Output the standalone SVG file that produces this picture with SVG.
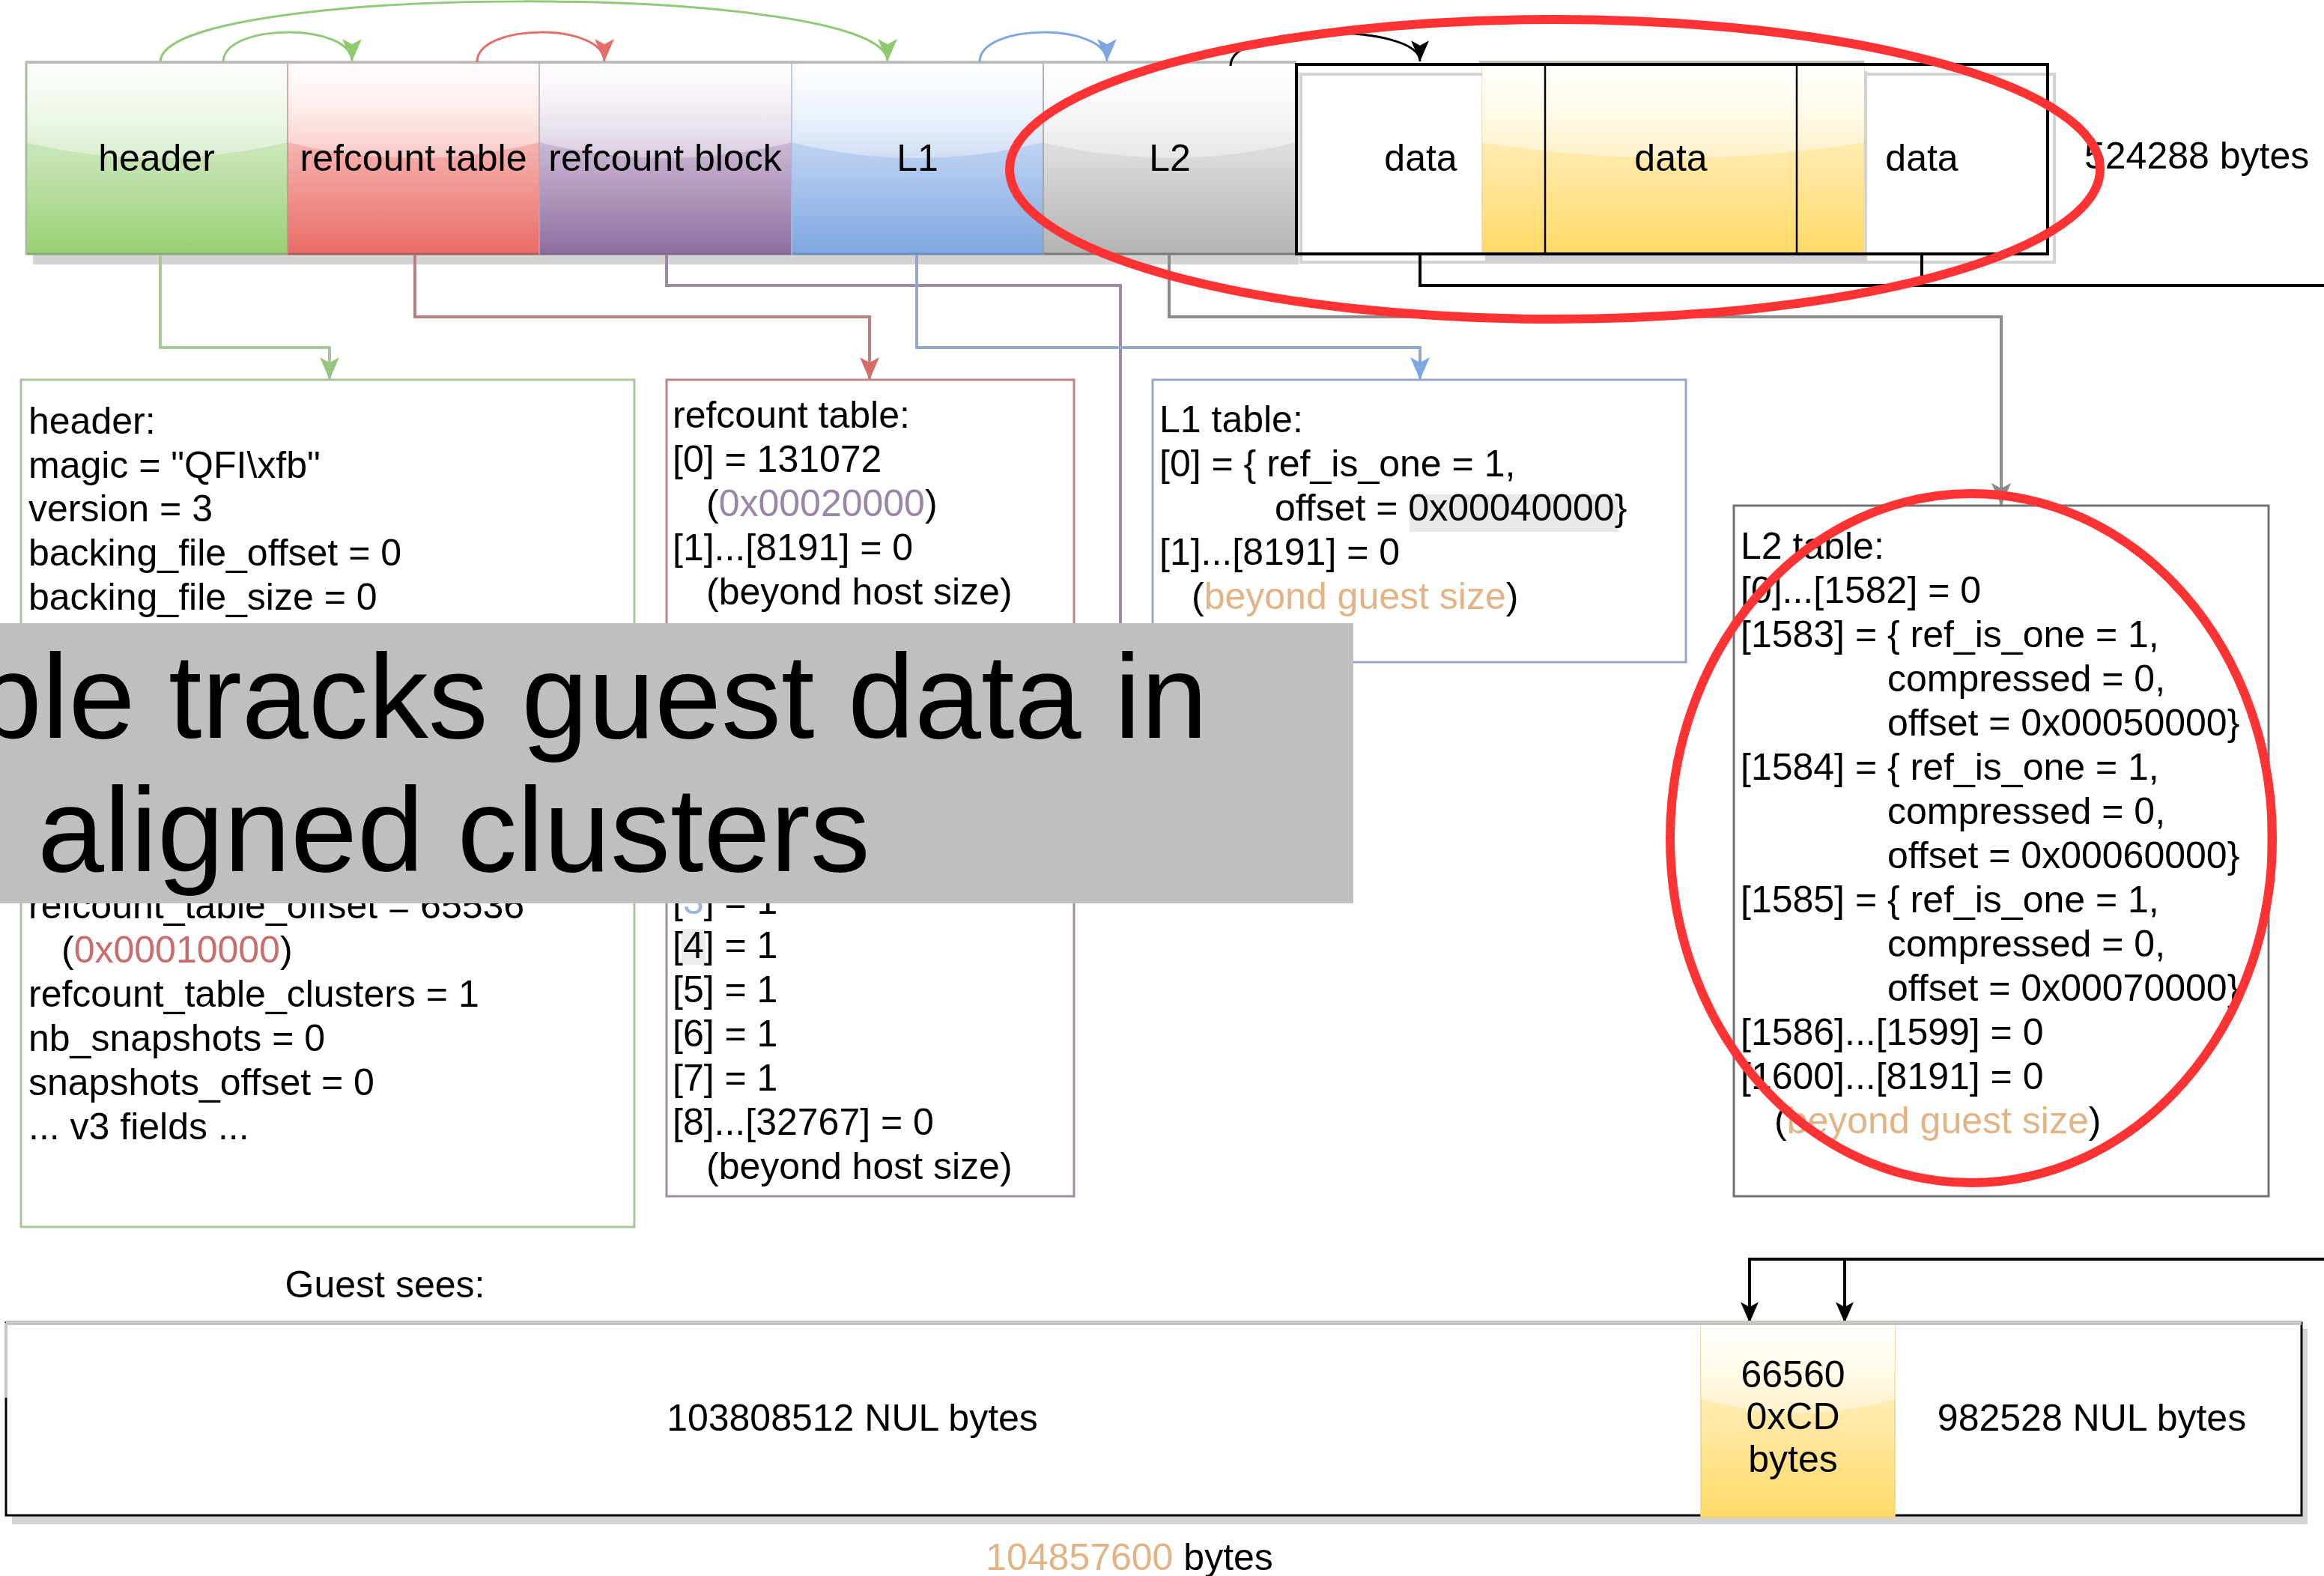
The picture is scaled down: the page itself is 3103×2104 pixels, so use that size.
<svg xmlns="http://www.w3.org/2000/svg" width="3103" height="2104" viewBox="0 0 3103 2104">
<style>
text{font-family:"Liberation Sans",Arial,Helvetica,sans-serif;font-size:50px;fill:#000}
.c{text-anchor:middle}
.big{font-size:160px}
.tan{fill:#e2b384}
.conn{fill:none;stroke-width:4}
.arc{fill:none;stroke-width:3}
.box{fill:#fff;stroke-width:3}
.ann{fill:none;stroke:#ff3333;stroke-width:12}
.glass{fill:url(#glass)}
.bl{stroke-width:3}
</style>
<defs>
<linearGradient id="glass" x1="0" y1="0" x2="0" y2="1"><stop offset="0" stop-color="#fff" stop-opacity="0.92"/><stop offset="1" stop-color="#fff" stop-opacity="0.35"/></linearGradient>
<linearGradient id="gGreen" x1="0" y1="0" x2="0" y2="1"><stop offset="0" stop-color="#dff0d6"/><stop offset="0.5" stop-color="#c6e4b4"/><stop offset="1" stop-color="#97cf72"/></linearGradient>
<linearGradient id="gRed" x1="0" y1="0" x2="0" y2="1"><stop offset="0" stop-color="#fde4e3"/><stop offset="0.5" stop-color="#f4a9a6"/><stop offset="1" stop-color="#ea6b66"/></linearGradient>
<linearGradient id="gPurple" x1="0" y1="0" x2="0" y2="1"><stop offset="0" stop-color="#ece4f0"/><stop offset="0.5" stop-color="#c3aecd"/><stop offset="1" stop-color="#8f6e9f"/></linearGradient>
<linearGradient id="gBlue" x1="0" y1="0" x2="0" y2="1"><stop offset="0" stop-color="#e3eefc"/><stop offset="0.5" stop-color="#b6cdf0"/><stop offset="1" stop-color="#7ea6e0"/></linearGradient>
<linearGradient id="gGray" x1="0" y1="0" x2="0" y2="1"><stop offset="0" stop-color="#f5f5f5"/><stop offset="0.5" stop-color="#d9d9d9"/><stop offset="1" stop-color="#b3b3b3"/></linearGradient>
<linearGradient id="gYellow" x1="0" y1="0" x2="0" y2="1"><stop offset="0" stop-color="#fff6da"/><stop offset="0.5" stop-color="#ffe9a8"/><stop offset="1" stop-color="#ffd966"/></linearGradient>
<marker id="mkGreenA" viewBox="0 0 30 26" refX="30" refY="13" markerWidth="30" markerHeight="26" markerUnits="userSpaceOnUse" orient="auto"><path d="M0,0 L30,13 L0,26 L7,13 Z" fill="#8fcb6c"/></marker>
<marker id="mkRedA" viewBox="0 0 30 26" refX="30" refY="13" markerWidth="30" markerHeight="26" markerUnits="userSpaceOnUse" orient="auto"><path d="M0,0 L30,13 L0,26 L7,13 Z" fill="#e36d6a"/></marker>
<marker id="mkBlueA" viewBox="0 0 30 26" refX="30" refY="13" markerWidth="30" markerHeight="26" markerUnits="userSpaceOnUse" orient="auto"><path d="M0,0 L30,13 L0,26 L7,13 Z" fill="#7ea6e0"/></marker>
<marker id="mkBlack" viewBox="0 0 30 26" refX="30" refY="13" markerWidth="30" markerHeight="24" markerUnits="userSpaceOnUse" orient="auto"><path d="M0,0 L30,13 L0,26 L7,13 Z" fill="#000"/></marker>
<marker id="mkGreenC" viewBox="0 0 30 26" refX="30" refY="13" markerWidth="30" markerHeight="26" markerUnits="userSpaceOnUse" orient="auto"><path d="M0,0 L30,13 L0,26 L7,13 Z" fill="#97c47f"/></marker>
<marker id="mkRedC" viewBox="0 0 30 26" refX="30" refY="13" markerWidth="30" markerHeight="26" markerUnits="userSpaceOnUse" orient="auto"><path d="M0,0 L30,13 L0,26 L7,13 Z" fill="#d46c68"/></marker>
<marker id="mkBlueC" viewBox="0 0 30 26" refX="30" refY="13" markerWidth="30" markerHeight="26" markerUnits="userSpaceOnUse" orient="auto"><path d="M0,0 L30,13 L0,26 L7,13 Z" fill="#7ea6e0"/></marker>
<marker id="mkGray" viewBox="0 0 30 26" refX="30" refY="13" markerWidth="30" markerHeight="26" markerUnits="userSpaceOnUse" orient="auto"><path d="M0,0 L30,13 L0,26 L7,13 Z" fill="#888"/></marker>
</defs>
<rect width="3103" height="2104" fill="#fff"/>

<!-- top bar shadow -->
<rect x="44" y="95" width="1690" height="258" fill="#d3d3d3"/>
<g id="bar-header">
<rect x="34" y="83" width="350" height="257" fill="url(#gGreen)"/>
<path class="glass" d="M34 85 H384 V190 Q209 232 34 190 Z"/>
<line x1="34" y1="339" x2="384" y2="339" stroke="#88a878" class="bl"/>
<line x1="35" y1="83" x2="35" y2="340" stroke="#a9bf9c" stroke-width="3"/>
<text class="c" x="209" y="228">header</text>
</g>
<g id="bar-refcount-table">
<rect x="384" y="83" width="336" height="257" fill="url(#gRed)"/>
<path class="glass" d="M384 85 H720 V190 Q552 232 384 190 Z"/>
<line x1="384" y1="339" x2="720" y2="339" stroke="#ab5f5c" class="bl"/>
<line x1="384" y1="83" x2="384" y2="340" stroke="#c9908e" stroke-width="1.5"/>
<text class="c" x="552" y="228">refcount table</text>
</g>
<g id="bar-refcount-block">
<rect x="720" y="83" width="337" height="257" fill="url(#gPurple)"/>
<path class="glass" d="M720 85 H1057 V190 Q888 232 720 190 Z"/>
<line x1="720" y1="339" x2="1057" y2="339" stroke="#7e6a8c" class="bl"/>
<line x1="720" y1="83" x2="720" y2="340" stroke="#b7a5bf" stroke-width="1.5"/>
<text class="c" x="888" y="228">refcount block</text>
</g>
<g id="bar-L1">
<rect x="1057" y="83" width="336" height="257" fill="url(#gBlue)"/>
<path class="glass" d="M1057 85 H1393 V190 Q1225 232 1057 190 Z"/>
<line x1="1057" y1="339" x2="1393" y2="339" stroke="#6d8cbd" class="bl"/>
<line x1="1057" y1="83" x2="1057" y2="340" stroke="#a7bde0" stroke-width="1.5"/>
<text class="c" x="1225" y="228">L1</text>
</g>
<g id="bar-L2">
<rect x="1393" y="83" width="338" height="257" fill="url(#gGray)"/>
<path class="glass" d="M1393 85 H1731 V190 Q1562 232 1393 190 Z"/>
<line x1="1393" y1="339" x2="1731" y2="339" stroke="#7a7a7a" class="bl"/>
<line x1="1393" y1="83" x2="1393" y2="340" stroke="#9a9a9a" stroke-width="1.5"/>
<text class="c" x="1562" y="228">L2</text>
</g>
<line x1="34" y1="83" x2="1731" y2="83" stroke="#bdbdbd" stroke-width="4"/>

<g id="bar-data">
<rect x="1737" y="99" width="1006" height="251" fill="#fff" stroke="#d2d2d2" stroke-width="4"/>
<rect x="1983" y="95" width="510" height="257" fill="#d2d2d2"/>
<rect x="1979" y="83" width="510" height="257" fill="url(#gYellow)" stroke="#e8d9a8" stroke-width="1.5"/>
<path class="glass" d="M1979 85 H2489 V190 Q2234 232 1979 190 Z"/>
<line x1="1975" y1="83" x2="2489" y2="83" stroke="#bdbdbd" stroke-width="4"/>
<rect x="1731" y="86" width="1003" height="253" fill="none" stroke="#000" stroke-width="4"/>
<line x1="2063" y1="86" x2="2063" y2="339" stroke="#000" stroke-width="2.5"/>
<line x1="2399" y1="86" x2="2399" y2="339" stroke="#000" stroke-width="2.5"/>
<text class="c" x="1897" y="228">data</text>
<text class="c" x="2231" y="228">data</text>
<text class="c" x="2566" y="228">data</text>
</g>
<g id="label-size">
<text x="2783" y="225">524288 bytes</text>
</g>

<g id="connectors">
<path class="arc" stroke="#93c97a" d="M214 83 C214 -25 1185 -25 1185 82" marker-end="url(#mkGreenA)"/>
<path class="arc" stroke="#93c97a" d="M298 83 C298 30 470 30 470 82" marker-end="url(#mkGreenA)"/>
<path class="arc" stroke="#e36d6a" d="M637 83 C637 30 807 30 807 82" marker-end="url(#mkRedA)"/>
<path class="arc" stroke="#7ea6e0" d="M1308 83 C1308 30 1478 30 1478 82" marker-end="url(#mkBlueA)"/>
<path class="arc" stroke="#000" d="M1643 88 C1643 30 1896 30 1896 82" marker-end="url(#mkBlack)"/>

<path class="conn" stroke="#a9c69c" d="M214 340 V464 H440 V507" marker-end="url(#mkGreenC)"/>
<path class="conn" stroke="#b9827e" d="M554 340 V423 H1161 V507" marker-end="url(#mkRedC)"/>
<path class="conn" stroke="#9e8aa6" d="M890 340 V381 H1496 V880"/>
<path class="conn" stroke="#93a7c9" d="M1224 340 V464 H1896 V507" marker-end="url(#mkBlueC)"/>
<path class="conn" stroke="#8c8c8c" d="M1561 340 V423 H2672 V675" marker-end="url(#mkGray)"/>

<path class="conn" stroke="#000" stroke-width="4" d="M1896 339 V381 H3103"/>
<path class="conn" stroke="#000" stroke-width="4" d="M2566 339 V381"/>
<path class="conn" stroke="#000" stroke-width="4" d="M3103 1681 H2336 V1766" marker-end="url(#mkBlack)"/>
<path class="conn" stroke="#000" stroke-width="4" d="M2463 1681 V1766" marker-end="url(#mkBlack)"/>
</g>

<g id="header-box">
<rect class="box" x="28" y="507" width="819" height="1131" stroke="#a9c69c"/>
<text x="38" y="579">header:</text>
<text x="38" y="638">magic = "QFI\xfb"</text>
<text x="38" y="696">version = 3</text>
<text x="38" y="755">backing_file_offset = 0</text>
<text x="38" y="814">backing_file_size = 0</text>
<text x="38" y="1226">refcount_table_offset = 65536</text>
<text x="82" y="1285">(<tspan fill="#c96c6c">0x00010000</tspan>)</text>
<text x="38" y="1344">refcount_table_clusters = 1</text>
<text x="38" y="1403">nb_snapshots = 0</text>
<text x="38" y="1462">snapshots_offset = 0</text>
<text x="38" y="1521">... v3 fields ...</text>
</g>

<g id="refcount-block-box">
<rect class="box" x="890" y="860" width="544" height="737" stroke="#9e8aa6"/>
<rect x="910" y="1240" width="32" height="48" fill="#ececec"/>
<text x="898" y="1220">[<tspan fill="#9db4d6">3</tspan>] = 1</text>
<text x="898" y="1279">[4] = 1</text>
<text x="898" y="1338">[5] = 1</text>
<text x="898" y="1397">[6] = 1</text>
<text x="898" y="1456">[7] = 1</text>
<text x="898" y="1515">[8]...[32767] = 0</text>
<text x="943" y="1574">(beyond host size)</text>
</g>

<g id="refcount-table-box">
<rect class="box" x="890" y="507" width="544" height="343" stroke="#c08482"/>
<text x="898" y="571">refcount table:</text>
<text x="898" y="630">[0] = 131072</text>
<text x="943" y="689">(<tspan fill="#9a84a8">0x00020000</tspan>)</text>
<text x="898" y="748">[1]...[8191] = 0</text>
<text x="943" y="807">(beyond host size)</text>
</g>

<g id="l1-box">
<rect class="box" x="1539" y="507" width="712" height="377" stroke="#93a7c9"/>
<rect x="1882" y="660" width="278" height="50" fill="#e8e8ea"/>
<text x="1548" y="577">L1 table:</text>
<text x="1548" y="636">[0] = { ref_is_one = 1,</text>
<text x="1702" y="695">offset = 0x00040000}</text>
<text x="1548" y="754">[1]...[8191] = 0</text>
<text x="1591" y="813">(<tspan class="tan">beyond guest size</tspan>)</text>
</g>

<g id="l2-box">
<rect class="box" x="2315" y="675" width="714" height="922" stroke="#707070"/>
<text x="2324" y="746">L2 table:</text>
<text x="2324" y="805">[0]...[1582] = 0</text>
<text x="2324" y="864">[1583] = { ref_is_one = 1,</text>
<text x="2520" y="923">compressed = 0,</text>
<text x="2520" y="982">offset = 0x00050000}</text>
<text x="2324" y="1041">[1584] = { ref_is_one = 1,</text>
<text x="2520" y="1100">compressed = 0,</text>
<text x="2520" y="1159">offset = 0x00060000}</text>
<text x="2324" y="1218">[1585] = { ref_is_one = 1,</text>
<text x="2520" y="1277">compressed = 0,</text>
<text x="2520" y="1336">offset = 0x00070000}</text>
<text x="2324" y="1395">[1586]...[1599] = 0</text>
<text x="2324" y="1454">[1600]...[8191] = 0</text>
<text x="2369" y="1513">(<tspan class="tan">beyond guest size</tspan>)</text>
</g>

<g id="guest-view">
<text class="c" x="514" y="1732">Guest sees:</text>
<rect x="16" y="1774" width="3065" height="261" fill="#d3d3d3"/>
<rect x="8" y="1766" width="3065" height="257" fill="#fff" stroke="#000" stroke-width="3"/>
<line x1="8" y1="1766" x2="8" y2="1866" stroke="#c6c6c6" stroke-width="4"/>
<rect x="2271" y="1764" width="259" height="262" fill="url(#gYellow)" stroke="#e5d39a" stroke-width="1.5"/>
<path class="glass" d="M2271 1768 H2530 V1868 Q2400 1905 2271 1868 Z"/>
<line x1="8" y1="1766" x2="3073" y2="1766" stroke="#c6c6c6" stroke-width="6"/>
<text class="c" x="1138" y="1910">103808512 NUL bytes</text>
<text class="c" x="2394" y="1852">66560</text>
<text class="c" x="2394" y="1908">0xCD</text>
<text class="c" x="2394" y="1965">bytes</text>
<text class="c" x="2793" y="1910">982528 NUL bytes</text>
<text class="c" x="1508" y="2096"><tspan class="tan">104857600</tspan> bytes</text>
</g>

<g id="banner">
<rect x="0" y="832" width="1807" height="374" fill="#bfbfbf"/>
<text class="big" x="-33" y="985">ble tracks guest data in</text>
<text class="big" x="50" y="1163">aligned clusters</text>
</g>

<g id="annotations">
<ellipse class="ann" cx="2076" cy="226" rx="728" ry="200"/>
<ellipse class="ann" cx="2632" cy="1119" rx="402" ry="460"/>
</g>
</svg>
